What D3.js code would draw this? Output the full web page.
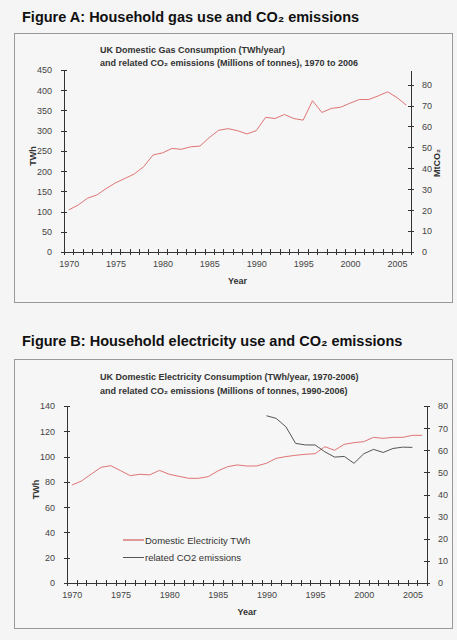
<!DOCTYPE html>
<html>
<head>
<meta charset="utf-8">
<script src="https://cdn.jsdelivr.net/npm/d3@7"></script>
<style>
  body { margin: 0; background: #f5f5f5; }
  svg { display: block; font-family: "Liberation Sans", Arial, sans-serif; }
  .axis path, .axis line { stroke: #333; stroke-width: 1; shape-rendering: crispEdges; }
  .axis text { fill: #444; font-size: 9px; }
</style>
</head>
<body>
<svg width="457" height="640"></svg>
<script>
// data
const years = d3.range(1970, 2007);
const gasTWh = [104, 116, 133, 141, 157, 171, 182, 193, 211, 240,
  245, 256, 254, 260, 262, 283, 301, 305, 300, 292,
  300, 333, 330, 340, 330, 326, 374, 345, 355, 358,
  368, 377, 377, 386, 396, 382, 363];
const elecTWh = [77.5, 80.7, 86.2, 91.5, 92.8, 88.9, 84.9, 86, 85.5, 89.1,
  86, 84.4, 82.8, 82.8, 84.1, 88.6, 92, 93.4, 92.5, 92.6,
  94.7, 98.6, 100, 101, 101.8, 102.3, 107.8, 105, 109.7, 111,
  111.8, 115.2, 114.4, 115.2, 115.2, 116.8, 116.8];
const co2Years = d3.range(1990, 2006);
const elecCO2 = [75.6, 74.4, 70.6, 63.1, 62.4, 62.4, 59.3, 56.9, 57.2, 54.1,
  58.4, 60.4, 59, 60.8, 61.4, 61.3];
const labelYears = [1970, 1975, 1980, 1985, 1990, 1995, 2000, 2005];
const gasTicks = d3.range(0, 451, 50);
const gasCO2Ticks = d3.range(0, 81, 10);
const elecTicks = d3.range(0, 141, 20);
const elecCO2Ticks = d3.range(0, 81, 10);

const svg = d3.select("svg");
const red = "#e07474";

// cross-shaped ticks like the original
function crossY(g) { g.selectAll(".tick line").attr("x1", -3).attr("x2", 3); }
function crossX(g) { g.selectAll(".tick line").attr("y1", -3).attr("y2", 3); }

function panel(o) {
  // figure heading
  svg.append("text")
    .attr("x", 22).attr("y", o.titleY)
    .attr("font-size", "14.5px").attr("font-weight", "bold").attr("fill", "#111")
    .text(o.title);

  // frame
  svg.append("rect")
    .attr("x", 14.5).attr("y", o.box[0] + 0.5)
    .attr("width", 438).attr("height", o.box[1] - o.box[0])
    .attr("fill", "#f6f6f6").attr("stroke", "#999");

  // chart heading
  o.sub.forEach((s, i) => {
    svg.append("text")
      .attr("x", 100).attr("y", o.subY + i * o.subGap)
      .attr("font-size", "9px").attr("font-weight", "bold").attr("fill", "#333")
      .text(s);
  });

  const x = d3.scaleLinear().domain([1969.5, 2006.5]).range([o.left, o.right]);
  const y = d3.scaleLinear().domain(o.yDomain).range([o.bottom, o.top]);
  const y2 = d3.scaleLinear().domain(o.y2Domain).range([o.bottom, o.top]);

  // x axis: ticks at year boundaries, labels every 5 years
  svg.append("g").attr("class", "axis")
    .attr("transform", `translate(0,${o.bottom})`)
    .call(d3.axisBottom(x).tickValues(d3.range(1969.5, 2007, 1)).tickFormat("").tickSizeOuter(0))
    .call(crossX);
  svg.append("g").attr("class", "axis")
    .attr("transform", `translate(0,${o.bottom})`)
    .call(d3.axisBottom(x).tickValues(labelYears).tickFormat(d3.format("d")).tickSize(0).tickPadding(9))
    .call(g => g.select(".domain").remove());

  svg.append("g").attr("class", "axis")
    .attr("transform", `translate(${o.left},0)`)
    .call(d3.axisLeft(y).tickValues(o.yTicks).tickSizeOuter(0).tickPadding(6))
    .call(crossY);
  svg.append("g").attr("class", "axis")
    .attr("transform", `translate(${o.right},0)`)
    .call(d3.axisRight(y2).tickValues(o.y2Ticks).tickSizeOuter(0).tickPadding(5))
    .call(crossY);

  svg.append("text")
    .attr("x", (o.left + o.right) / 2).attr("y", o.bottom + 32)
    .attr("text-anchor", "middle").attr("font-size", "9px").attr("font-weight", "bold").attr("fill", "#333")
    .text("Year");
  svg.append("text")
    .attr("transform", `translate(${o.left - 28},${(o.top + o.bottom) / 2 - 5}) rotate(-90)`)
    .attr("text-anchor", "middle").attr("font-size", "9px").attr("font-weight", "bold").attr("fill", "#333")
    .text("TWh");

  return { x, y, y2 };
}

// Figure A
const a = panel({
  title: "Figure A: Household gas use and CO\u2082 emissions",
  titleY: 22, box: [33, 302],
  sub: ["UK Domestic Gas Consumption (TWh/year)",
        "and related CO\u2082 emissions (Millions of tonnes), 1970 to 2006"],
  subY: 53, subGap: 12.5,
  left: 64, right: 411, top: 70, bottom: 252,
  yDomain: [0, 450], yTicks: gasTicks,
  y2Domain: [0, 87], y2Ticks: gasCO2Ticks
});
svg.append("text")
  .attr("transform", "translate(440,163) rotate(-90)")
  .attr("text-anchor", "middle").attr("font-size", "9px").attr("font-weight", "bold").attr("fill", "#333")
  .text("MtCO\u2082");

svg.append("path")
  .datum(years.map((d, i) => [d, gasTWh[i]]))
  .attr("fill", "none").attr("stroke", red).attr("stroke-width", 1)
  .attr("d", d3.line().x(d => a.x(d[0])).y(d => a.y(d[1])));

// Figure B
const b = panel({
  title: "Figure B: Household electricity use and CO\u2082 emissions",
  titleY: 346, box: [359, 628],
  sub: ["UK Domestic Electricity Consumption (TWh/year, 1970-2006)",
        "and related CO\u2082 emissions (Millions of tonnes, 1990-2006)"],
  subY: 380, subGap: 13.5,
  left: 67, right: 427, top: 406, bottom: 583,
  yDomain: [0, 140], yTicks: elecTicks,
  y2Domain: [0, 80], y2Ticks: elecCO2Ticks
});

svg.append("path")
  .datum(years.map((d, i) => [d, elecTWh[i]]))
  .attr("fill", "none").attr("stroke", red).attr("stroke-width", 1)
  .attr("d", d3.line().x(d => b.x(d[0])).y(d => b.y(d[1])));
svg.append("path")
  .datum(co2Years.map((d, i) => [d, elecCO2[i]]))
  .attr("fill", "none").attr("stroke", "#555").attr("stroke-width", 1)
  .attr("d", d3.line().x(d => b.x(d[0])).y(d => b.y2(d[1])));

// legend
const legend = svg.append("g").attr("transform", "translate(123,540)");
[["Domestic Electricity TWh", "#c83c3c"], ["related CO2 emissions", "#555"]].forEach((d, i) => {
  legend.append("line")
    .attr("x1", 0).attr("x2", 21).attr("y1", i * 17.5).attr("y2", i * 17.5)
    .attr("stroke", d[1]).attr("stroke-width", 1);
  legend.append("text")
    .attr("x", 22).attr("y", i * 17.5 + 3.5)
    .attr("font-size", "9.5px").attr("fill", "#333")
    .text(d[0]);
});
</script>
</body>
</html>
